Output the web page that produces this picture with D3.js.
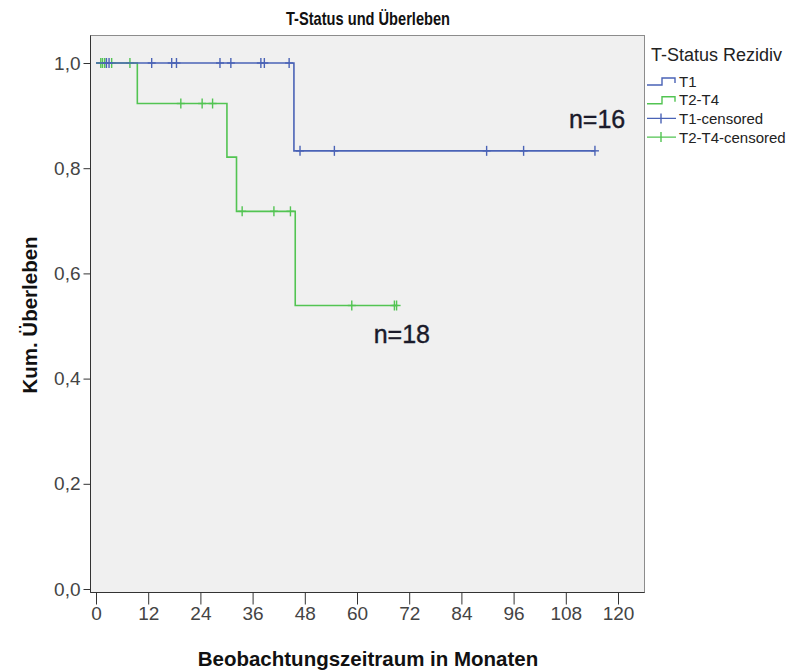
<!DOCTYPE html>
<html>
<head>
<meta charset="utf-8">
<script src="https://cdn.jsdelivr.net/npm/d3@7"></script>
<style>
  body { margin: 0; background: #fff; }
  svg { display: block; font-family: "Liberation Sans", Arial, sans-serif; }
</style>
</head>
<body>
<div id="chart"></div>
<script>
// Kaplan-Meier steps (months, cumulative survival)
const t1Time = [0, 45.5, 114.7];
const t1Surv = [1, 0.833, 0.833];
const t1Censored = [2.4, 3.0, 12.8, 17.4, 18.5, 28.5, 31.0, 37.9, 38.7, 44.4, 46.9, 54.8, 89.8, 98.3, 114.7];

const t2Time = [0, 9.5, 30.1, 32.3, 45.8, 69.1];
const t2Surv = [1, 0.923, 0.821, 0.718, 0.539, 0.539];
const t2Censored = [1.1, 1.5, 2.0, 3.6, 7.8, 19.5, 24.4, 26.8, 33.6, 40.9, 44.7, 58.8, 68.6, 69.1];

const xTicks = [0, 12, 24, 36, 48, 60, 72, 84, 96, 108, 120];
const yTicks = [0, 0.2, 0.4, 0.6, 0.8, 1.0];
const legendLabels = ["T1", "T2-T4", "T1-censored", "T2-T4-censored"];
const nLabels = [{text: "n=16", t: 115.2, s: 0.877}, {text: "n=18", t: 70.3, s: 0.467}];

const W = 790, H = 672;
const blue = "#4a63b6", green = "#52c452";

const svg = d3.select("#chart").append("svg").attr("width", W).attr("height", H);

const x = d3.scaleLinear().domain([0, 120]).range([96, 618]);
const y = d3.scaleLinear().domain([0, 1]).range([589, 63]);

// plot frame
svg.append("rect").attr("x", 90.5).attr("y", 35.5).attr("width", 554).attr("height", 557)
  .attr("fill", "#f0f0f0").attr("stroke", "#8c8c8c");

const fmt = d => d3.format(".1f")(d).replace(".", ",");

svg.append("g").attr("transform", "translate(90.5,0)")
  .call(d3.axisLeft(y).tickValues(yTicks).tickFormat(fmt).tickSize(7).tickPadding(3))
  .call(g => g.select(".domain").attr("d", "M0,35.5V592.5").attr("stroke", "#333"))
  .call(g => g.selectAll("line").attr("stroke", "#333"))
  .call(g => g.selectAll("text").attr("font-size", 19).attr("fill", "#444").attr("font-family", "Liberation Sans, Arial"));

svg.append("g").attr("transform", "translate(0,592.5)")
  .call(d3.axisBottom(x).tickValues(xTicks).tickSize(12).tickPadding(2))
  .call(g => g.select(".domain").attr("d", "M90.5,0H644.5").attr("stroke", "#333"))
  .call(g => g.selectAll("line").attr("stroke", "#333"))
  .call(g => g.selectAll("text").attr("font-size", 19).attr("fill", "#444").attr("font-family", "Liberation Sans, Arial"));

function stepAt(times, surv, t) {
  let s = surv[0];
  for (let i = 0; i < times.length; i++) if (times[i] <= t) s = surv[i];
  return s;
}

const line = d3.line().x(d => x(d[0])).y(d => y(d[1])).curve(d3.curveStepAfter);

function drawGroup(times, surv, cens, color) {
  svg.append("path").datum(times.map((t, i) => [t, surv[i]]))
    .attr("d", line).attr("fill", "none").attr("stroke", color).attr("stroke-width", 1.6);
  const g = svg.append("g").attr("stroke", color).attr("stroke-width", 1.4);
  cens.forEach(t => {
    const cx = x(t), cy = y(stepAt(times, surv, t));
    g.append("line").attr("x1", cx - 4).attr("x2", cx + 4).attr("y1", cy).attr("y2", cy);
    g.append("line").attr("x1", cx).attr("x2", cx).attr("y1", cy - 5).attr("y2", cy + 5);
  });
}
drawGroup(t2Time, t2Surv, t2Censored, green);
drawGroup(t1Time, t1Surv, t1Censored, blue);

// n annotations
svg.selectAll(".nlab").data(nLabels).enter().append("text")
  .attr("x", d => x(d.t)).attr("y", d => y(d.s))
  .attr("text-anchor", "middle").attr("font-size", 25).attr("fill", "#1a1a2a")
  .attr("stroke", "#1a1a2a").attr("stroke-width", 0.4)
  .text(d => d.text);

// titles
svg.append("text").attr("x", 368).attr("y", 25).attr("text-anchor", "middle")
  .attr("font-size", 18.5).attr("font-weight", "bold").attr("fill", "#111")
  .attr("textLength", 164).attr("lengthAdjust", "spacingAndGlyphs").text("T-Status und Überleben");
svg.append("text").attr("x", 368).attr("y", 666).attr("text-anchor", "middle")
  .attr("font-size", 20.5).attr("font-weight", "bold").attr("fill", "#111").text("Beobachtungszeitraum in Monaten");
svg.append("text").attr("transform", "translate(37,315) rotate(-90)").attr("text-anchor", "middle")
  .attr("font-size", 20.5).attr("font-weight", "bold").attr("fill", "#111").text("Kum. Überleben");

// legend
const lg = svg.append("g");
lg.append("text").attr("x", 651).attr("y", 61).attr("font-size", 18).attr("fill", "#222").text("T-Status Rezidiv");
const legendColors = [blue, green, blue, green];
legendLabels.forEach((lab, i) => {
  const ly = 81 + i * 18.7;
  if (i < 2) {
    lg.append("path").attr("d", `M647,${ly + 4}H662V${ly - 3}H675V${ly + 2}`)
      .attr("fill", "none").attr("stroke", legendColors[i]).attr("stroke-width", 1.4);
  } else {
    lg.append("path").attr("d", `M647,${ly}H676M661,${ly - 5}V${ly + 5}`)
      .attr("fill", "none").attr("stroke", legendColors[i]).attr("stroke-width", 1.4);
  }
  lg.append("text").attr("x", 679).attr("y", ly + 5.5).attr("font-size", 15).attr("fill", "#222").text(lab);
});
</script>
</body>
</html>
